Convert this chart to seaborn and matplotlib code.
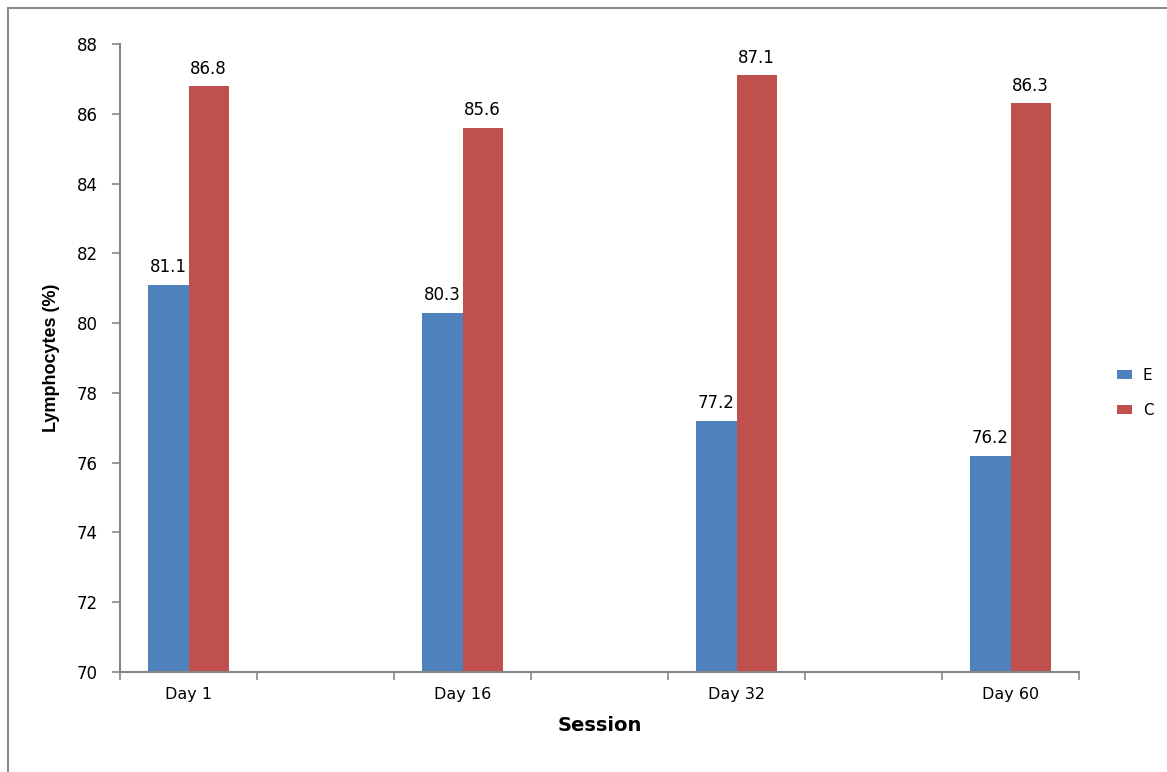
import matplotlib
matplotlib.use("Agg")
import matplotlib.pyplot as plt
from matplotlib.lines import Line2D
from matplotlib.patches import Patch
import seaborn as sns
import pandas as pd

# Data
sessions = ["Day 1", "Day 16", "Day 32", "Day 60"]
group_e = [81.1, 80.3, 77.2, 76.2]
group_c = [86.8, 85.6, 87.1, 86.3]
groups = ["E", "C"]
y_ticks = [70, 72, 74, 76, 78, 80, 82, 84, 86, 88]

colors = {"E": "#4F81BD", "C": "#C0504D"}
axis_gray = "#868686"

df = pd.DataFrame({
    "Session": sessions * 2,
    "Group": ["E"] * len(sessions) + ["C"] * len(sessions),
    "Value": group_e + group_c,
})

# Empty spacer categories between the labelled sessions
order = ["Day 1", " ", "Day 16", "  ", "Day 32", "   ", "Day 60"]

sns.set_theme(style="white")
plt.rcParams["font.family"] = ["DejaVu Sans"]
plt.rcParams["text.color"] = "black"
plt.rcParams["axes.labelcolor"] = "black"
plt.rcParams["xtick.labelcolor"] = "black"
plt.rcParams["ytick.labelcolor"] = "black"

fig = plt.figure(figsize=(11.67, 7.72), dpi=100)
W, H = 1167, 772
ax = fig.add_axes([120 / W, 1 - 672 / H, (1079 - 120) / W, (672 - 44) / H])

sns.barplot(data=df, x="Session", y="Value", hue="Group", order=order,
            hue_order=groups, palette=colors, width=0.584, linewidth=0,
            saturation=1, errorbar=None, ax=ax, legend=False)

for cont in ax.containers:
    ax.bar_label(cont, fmt="%.1f", padding=6, fontsize=12, color="black")

ax.set_ylim(70, 88)
ax.set_xlim(-0.5, len(order) - 0.5)
ax.set_yticks(y_ticks)
ax.set_yticklabels([str(v) for v in y_ticks], fontsize=12)

# Labels under the sessions only, tick marks on category boundaries
centers = [i for i, c in enumerate(order) if c.strip()]
ax.set_xticks(centers)
ax.set_xticklabels(sessions, fontsize=11.5)
ax.set_xticks([i - 0.5 for i in range(len(order) + 1)], minor=True)
ax.tick_params(axis="x", which="major", length=0, pad=11)
ax.tick_params(axis="x", which="minor", length=6, width=1.2, color=axis_gray,
               direction="out", bottom=True)
ax.tick_params(axis="y", length=6, width=1.2, color=axis_gray,
               direction="out", left=True, pad=10)

for side in ["top", "right"]:
    ax.spines[side].set_visible(False)
for side in ["left", "bottom"]:
    ax.spines[side].set_color(axis_gray)
    ax.spines[side].set_linewidth(1.5)

ax.set_xlabel("Session", fontsize=14, fontweight="bold", labelpad=10)
ax.set_ylabel("Lymphocytes (%)", fontsize=13, fontweight="bold", labelpad=12,
              family=["Liberation Sans", "DejaVu Sans"])

handles = [Patch(facecolor=colors[g], edgecolor="none", label=g) for g in groups]
fig.legend(handles=handles, loc="center left",
           bbox_to_anchor=(1103 / W, 1 - 393 / H), frameon=False,
           fontsize=11, handlelength=1.0, handleheight=0.5,
           labelspacing=1.3, handletextpad=0.7)

# Outer chart frame
fig.add_artist(Line2D([8 / W, 1], [1 - 8 / H, 1 - 8 / H], color="#8c8c8c",
                      lw=1.5, transform=fig.transFigure))
fig.add_artist(Line2D([8 / W, 8 / W], [0, 1 - 8 / H], color="#8c8c8c",
                      lw=1.5, transform=fig.transFigure))

fig.savefig("out.png", dpi=100, facecolor="white")
